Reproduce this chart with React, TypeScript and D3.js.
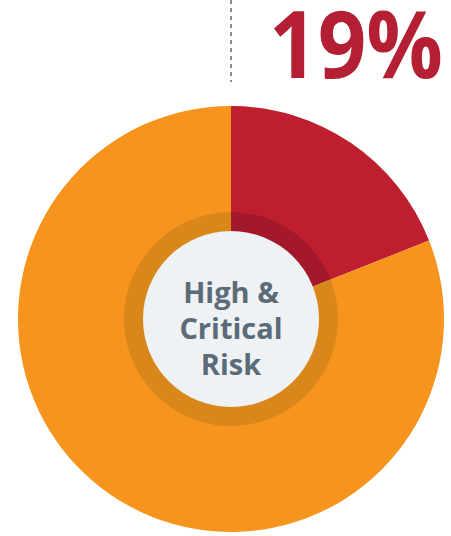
import React from "react";
import * as d3 from "d3";

const categories = ["High & Critical Risk", "Other"];
const values = [19, 81];
const colors = ["#bf1e2e", "#f7941d"];
const shadeColors = ["#a3182a", "#d9861a"];
const bigLabel = "19%";
const centerLines = ["High &", "Critical", "Risk"];

const W = 451;
const H = 536;

export default function App() {
  const cx = 231;
  const cy = 319;
  const outerR = 213;
  const ringR = 107;
  const innerR = 88;

  const pie = d3.pie<number>().sort(null).value((d) => d);
  const arcs = pie(values);
  const arcMain = d3.arc<d3.PieArcDatum<number>>().innerRadius(ringR - 1).outerRadius(outerR);
  const arcShade = d3.arc<d3.PieArcDatum<number>>().innerRadius(innerR - 1).outerRadius(ringR);

  return (
    <svg
      width={W}
      height={H}
      style={{ position: "absolute", left: 0, top: 0, display: "block", background: "#ffffff" }}
      fontFamily="'Open Sans', 'Noto Sans', sans-serif"
    >
      <line x1={cx} x2={cx} y1={0} y2={82} stroke="#8a8a8a" strokeWidth={2} strokeDasharray="4 4" />
      <text
        x={269}
        y={78}
        fontSize={93}
        fontWeight={700}
        fill="#b41f33"
        textLength={174}
        lengthAdjust="spacingAndGlyphs"
      >
        {bigLabel}
      </text>
      <g transform={`translate(${cx},${cy})`}>
        {arcs.map((a, i) => (
          <path key={"m" + i} d={arcMain(a) || ""} fill={colors[i]} />
        ))}
        {arcs.map((a, i) => (
          <path key={"s" + i} d={arcShade(a) || ""} fill={shadeColors[i]} />
        ))}
        <circle r={innerR} fill="#eef2f5" />
        {centerLines.map((t, i) => (
          <text
            key={t}
            x={0}
            y={-16 + i * 36}
            textAnchor="middle"
            fontSize={29}
            fontWeight={700}
            fill="#5b6b78"
          >
            {t}
          </text>
        ))}
      </g>
      <title>{categories.join(", ")}</title>
    </svg>
  );
}
